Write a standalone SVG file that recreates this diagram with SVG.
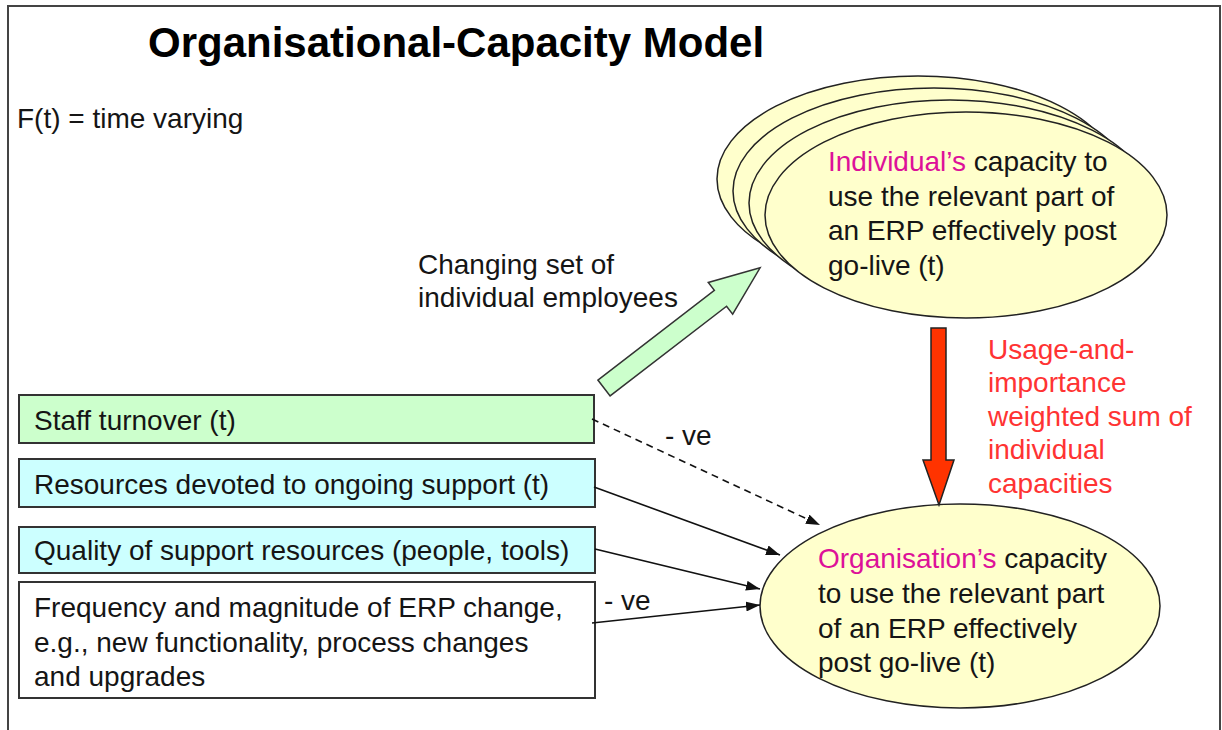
<svg xmlns="http://www.w3.org/2000/svg" width="1222" height="730" viewBox="0 0 1222 730">
  <defs>
    <style>
      text { font-family: "Liberation Sans", Arial, sans-serif; font-size: 28px; fill: #151515; }
      .title { font-size: 42px; font-weight: bold; fill: #000; }
      .pink { fill: #dd1199; }
      .red { fill: #ff3333; }
      .box { stroke: #333; stroke-width: 2; }
      .ell { fill: #ffffcc; stroke: #222; stroke-width: 1.5; }
      .link { stroke: #111; stroke-width: 1.6; fill: none; marker-end: url(#head); }
      .dash { stroke-dasharray: 7 5; }
    </style>
    <marker id="head" viewBox="0 0 14 10" refX="14" refY="5" markerWidth="14" markerHeight="10" markerUnits="userSpaceOnUse" orient="auto">
      <path d="M0,0 L14,5 L0,10 Z" fill="#111"/>
    </marker>
  </defs>

  <rect width="1222" height="730" fill="#fff"/>
  <!-- outer frame -->
  <rect x="8" y="6" width="1212" height="740" fill="none" stroke="#444" stroke-width="2"/>

  <text class="title" x="148" y="57">Organisational-Capacity Model</text>
  <text x="17" y="128">F(t) = time varying</text>

  <!-- stacked individual capacity ellipses -->
  <g id="individual">
    <ellipse class="ell" cx="918" cy="179" rx="201" ry="103"/>
    <ellipse class="ell" cx="934" cy="191" rx="201" ry="103"/>
    <ellipse class="ell" cx="950" cy="203" rx="201" ry="103"/>
    <ellipse class="ell" cx="966" cy="215" rx="201" ry="103"/>
    <text x="828" y="171"><tspan class="pink">Individual’s</tspan> capacity to</text>
    <text x="828" y="206">use the relevant part of</text>
    <text x="828" y="240">an ERP effectively post</text>
    <text x="828" y="275">go-live (t)</text>
  </g>

  <g id="organisation">
    <ellipse class="ell" cx="960" cy="606" rx="200" ry="102"/>
    <text x="818" y="568"><tspan class="pink">Organisation’s</tspan> capacity</text>
    <text x="818" y="603">to use the relevant part</text>
    <text x="818" y="638">of an ERP effectively</text>
    <text x="818" y="672">post go-live (t)</text>
  </g>

  <g id="staff-turnover">
    <rect class="box" x="19" y="395" width="575" height="48" fill="#ccffcc"/>
    <text x="34" y="430">Staff turnover (t)</text>
  </g>
  <g id="resources">
    <rect class="box" x="19" y="459" width="576" height="48" fill="#ccffff"/>
    <text x="34" y="494">Resources devoted to ongoing support (t)</text>
  </g>
  <g id="quality">
    <rect class="box" x="19" y="527" width="576" height="46" fill="#ccffff"/>
    <text x="34" y="560">Quality of support resources (people, tools)</text>
  </g>
  <g id="erp-change">
    <rect class="box" x="19" y="582" width="576" height="116" fill="#ffffff"/>
    <text x="34" y="617">Frequency and magnitude of ERP change,</text>
    <text x="34" y="652">e.g., new functionality, process changes</text>
    <text x="34" y="686">and upgrades</text>
  </g>

  <g id="connectors">
    <!-- block arrow: changing set of employees -->
    <g transform="translate(604,388) rotate(-37.6)">
      <path d="M0,-10 L147,-10 L147,-20 L197,0 L147,20 L147,10 L0,10 Z" fill="#ccffcc" stroke="#333" stroke-width="1.5"/>
    </g>
    <text x="418" y="274">Changing set of</text>
    <text x="418" y="307">individual employees</text>

    <!-- block arrow: weighted sum -->
    <path d="M931,328 L946,328 L946,460 L954,460 L939,505 L923,460 L931,460 Z" fill="#ff3300" stroke="#222" stroke-width="1.5"/>
    <text class="red" x="988" y="359">Usage-and-</text>
    <text class="red" x="988" y="392">importance</text>
    <text class="red" x="988" y="426">weighted sum of</text>
    <text class="red" x="988" y="459">individual</text>
    <text class="red" x="988" y="493">capacities</text>

    <path class="link dash" d="M592,419 L820,525"/>
    <text x="665" y="445">- ve</text>
    <path class="link" d="M594,487 L780,555"/>
    <path class="link" d="M595,549 L760,589"/>
    <path class="link" d="M592,623 L760,605"/>
    <text x="604" y="610">- ve</text>
  </g>
</svg>
